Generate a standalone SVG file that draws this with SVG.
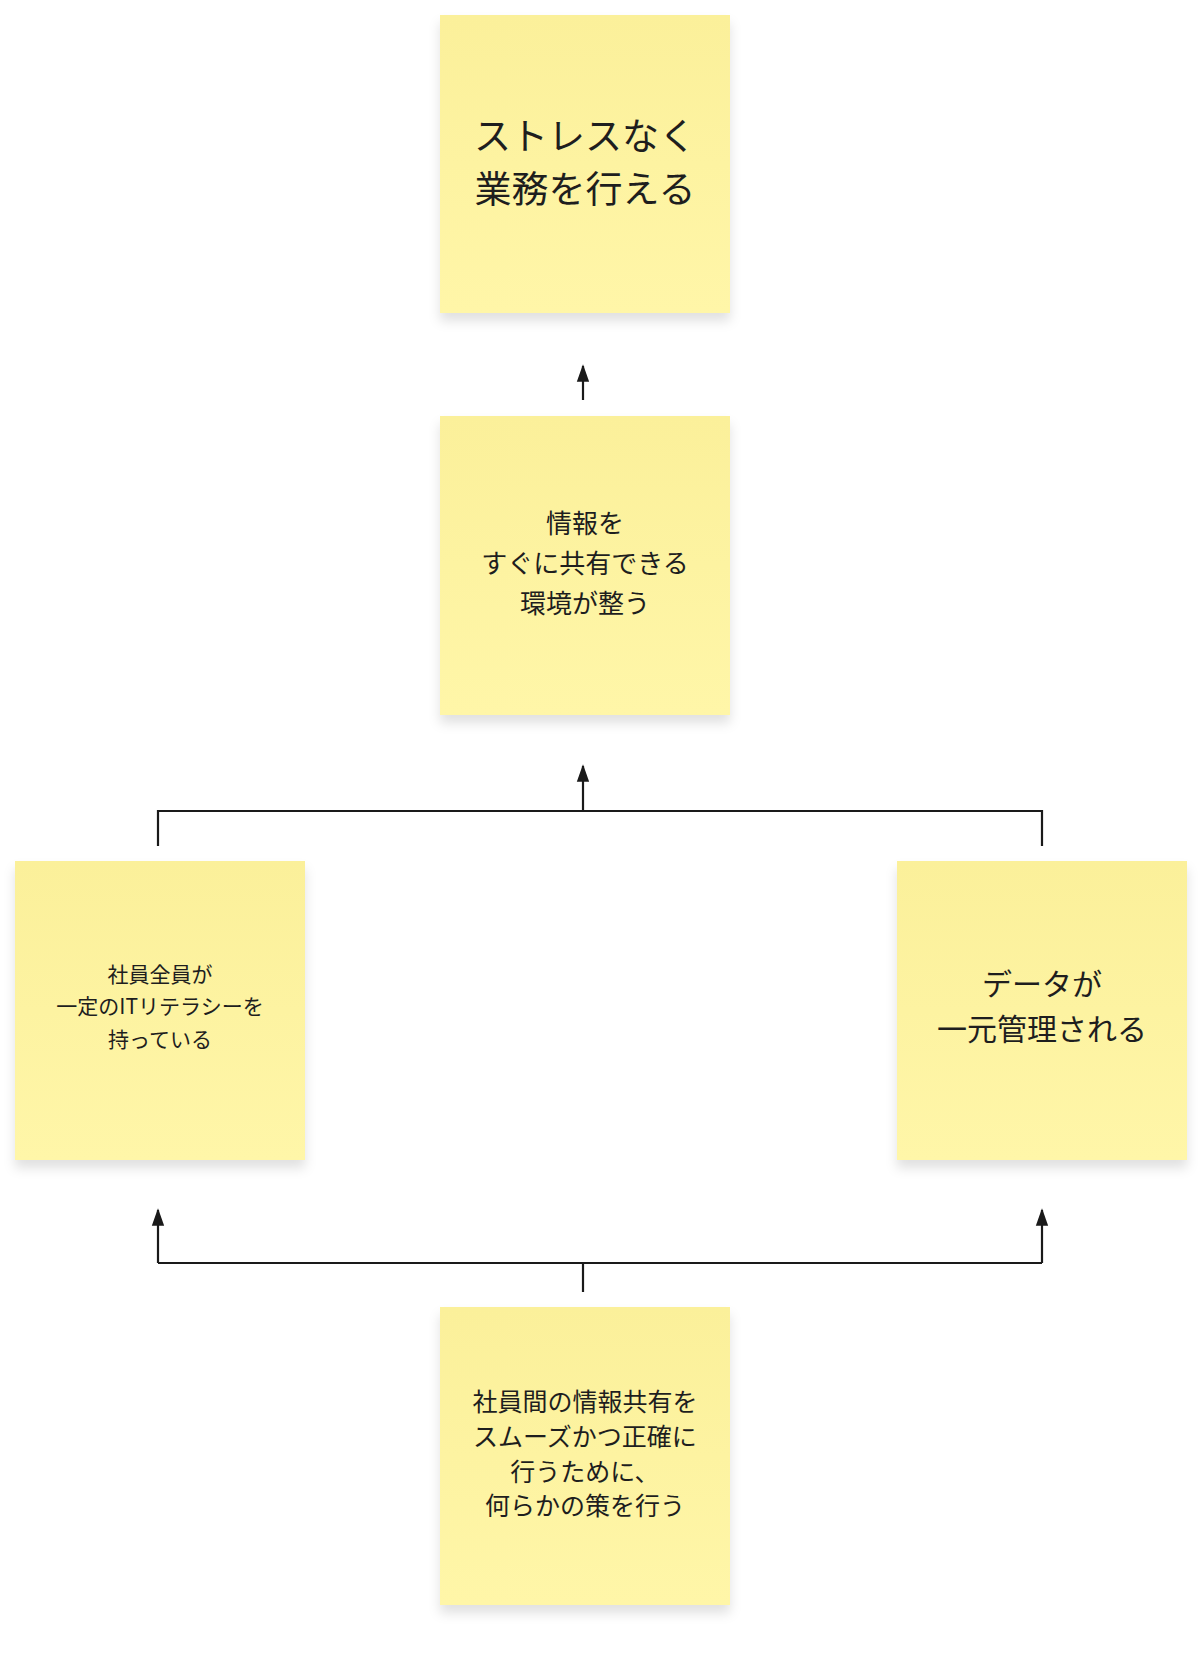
<svg xmlns="http://www.w3.org/2000/svg" width="1200" height="1657" viewBox="0 0 1200 1657">
<defs>
<linearGradient id="y" x1="0" y1="0" x2="0" y2="1"><stop offset="0" stop-color="#fbf09a"/><stop offset="1" stop-color="#fff6a8"/></linearGradient>
<filter id="sh" x="-10%" y="-10%" width="120%" height="130%"><feDropShadow dx="0" dy="8" stdDeviation="6" flood-color="#000" flood-opacity="0.12"/></filter>
<marker id="a" viewBox="0 0 10 10" refX="9" refY="5" markerWidth="8" markerHeight="8" orient="auto"><path d="M0,1.5 L10,5 L0,8.5 z" fill="#1a1a1a"/></marker>
</defs>
<style>
.n{fill:url(#y);filter:url(#sh)}
text{font-family:"Noto Sans CJK JP","Noto Sans",sans-serif;fill:#1e1e1e;text-anchor:middle;dominant-baseline:central}
.c{fill:none;stroke:#1a1a1a;stroke-width:2.2}
</style>
<g id="connectors">
<path class="c" d="M583,400 L583,366" marker-end="url(#a)"/>
<path class="c" d="M583,811 L583,766" marker-end="url(#a)"/>
<path class="c" d="M158,846 L158,811 L1042,811 L1042,846"/>
<path class="c" d="M583,1292 L583,1263"/>
<path class="c" d="M158,1263 L1042,1263"/>
<path class="c" d="M158,1263 L158,1210" marker-end="url(#a)"/>
<path class="c" d="M1042,1263 L1042,1210" marker-end="url(#a)"/>
</g>
<g id="n1"><rect class="n" x="440" y="15" width="290" height="298"/>
<text x="585" y="134" font-size="37">ストレスなく</text><text x="585" y="187" font-size="37">業務を行える</text></g>
<g id="n2"><rect class="n" x="440" y="416" width="290" height="299"/>
<text x="585" y="521" font-size="26">情報を</text><text x="585" y="561" font-size="26">すぐに共有できる</text><text x="585" y="601" font-size="26">環境が整う</text></g>
<g id="n3"><rect class="n" x="15" y="861" width="290" height="299"/>
<text x="160" y="973" font-size="21">社員全員が</text><text x="160" y="1005" font-size="21">一定のITリテラシーを</text><text x="160" y="1038" font-size="21">持っている</text></g>
<g id="n4"><rect class="n" x="897" y="861" width="290" height="299"/>
<text x="1042" y="982" font-size="30">データが</text><text x="1042" y="1027" font-size="30">一元管理される</text></g>
<g id="n5"><rect class="n" x="440" y="1307" width="290" height="298"/>
<text x="585" y="1400" font-size="25">社員間の情報共有を</text><text x="585" y="1435" font-size="25">スムーズかつ正確に</text><text x="585" y="1470" font-size="25">行うために、</text><text x="585" y="1504" font-size="25">何らかの策を行う</text></g>
</svg>
